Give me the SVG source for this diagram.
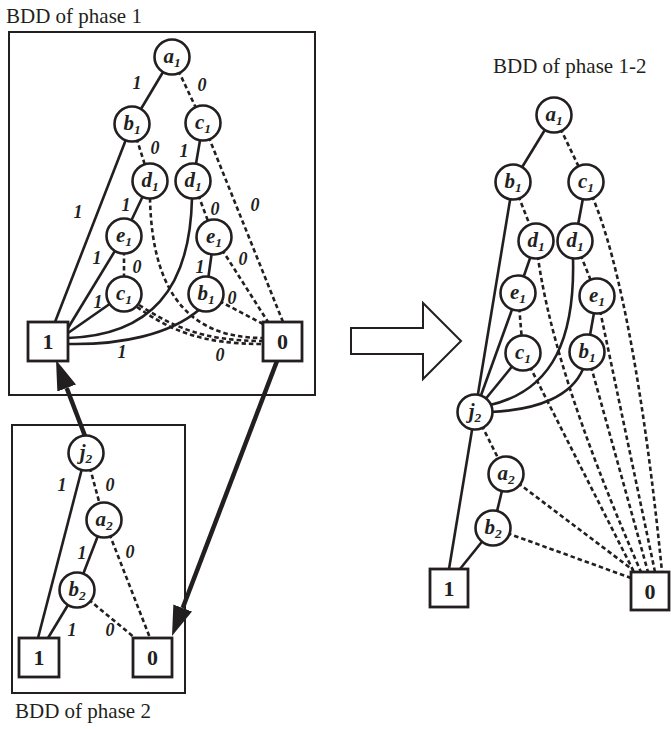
<svg xmlns="http://www.w3.org/2000/svg" width="671" height="729" viewBox="0 0 671 729">
  <style>
    .frame { fill: none; stroke: #231f20; stroke-width: 2; }
    .s { fill: none; stroke: #231f20; stroke-width: 2.6; }
    .d { fill: none; stroke: #231f20; stroke-width: 2.6; stroke-dasharray: 4.5 3; }
    .thick { fill: none; stroke: #231f20; stroke-width: 4.5; }
    .node circle { fill: #fff; stroke: #231f20; stroke-width: 2.6; }
    .term rect { fill: #fff; stroke: #231f20; stroke-width: 2.8; }
    .nl { font-family: "Liberation Serif", serif; font-weight: bold; font-style: italic; font-size: 21px; text-anchor: middle; fill: #231f20; }
    .sub { font-size: 13.5px; }
    .tl { font-family: "Liberation Serif", serif; font-weight: bold; font-size: 22px; text-anchor: middle; fill: #231f20; }
    .el { font-family: "Liberation Serif", serif; font-weight: bold; font-style: italic; font-size: 18px; text-anchor: middle; fill: #231f20; }
    .title { font-family: "Liberation Serif", serif; font-size: 21px; fill: #231f20; }
  </style>
  <defs>
    <marker id="ah" viewBox="0 -10 30 20" markerWidth="30" markerHeight="20" refX="0" refY="0" orient="auto" markerUnits="userSpaceOnUse">
      <path d="M0,-10 L30,0 L0,10 z" fill="#231f20"/>
    </marker>
  </defs>

  <rect width="671" height="729" fill="#fff"/>

  <!-- titles and frames -->
  <text class="title" x="6" y="23">BDD of phase 1</text>
  <text class="title" x="15" y="718">BDD of phase 2</text>
  <text class="title" x="493" y="73">BDD of phase 1-2</text>
  <rect class="frame" x="9" y="32" width="306" height="363"/>
  <rect class="frame" x="12" y="425" width="173" height="268"/>

  <!-- hollow transformation arrow -->
  <polygon class="frame" points="351,328 423,328 423,303 461,341 423,379 423,354 351,354"/>

  <g id="connectors">
    <!-- phase 1 -->
    <line class="s" x1="172" y1="57" x2="132" y2="124"/>
    <line class="d" x1="172" y1="57" x2="203" y2="123"/>
    <line class="s" x1="132" y1="124" x2="55" y2="322"/>
    <line class="d" x1="132" y1="124" x2="150" y2="181"/>
    <line class="s" x1="203" y1="123" x2="193" y2="181"/>
    <line class="d" x1="203" y1="123" x2="283" y2="322"/>
    <line class="s" x1="150" y1="181" x2="124" y2="236"/>
    <path class="d" d="M150,198 C152,300 195,338 263,338"/>
    <path class="s" d="M192,198 C190,290 150,335 68,338"/>
    <line class="d" x1="193" y1="181" x2="214" y2="237"/>
    <line class="s" x1="124" y1="236" x2="68" y2="328"/>
    <line class="d" x1="124" y1="236" x2="124" y2="294"/>
    <line class="s" x1="214" y1="237" x2="206" y2="294"/>
    <line class="d" x1="214" y1="237" x2="268" y2="322"/>
    <line class="s" x1="124" y1="294" x2="68" y2="333"/>
    <path class="d" d="M137,307 C170,330 200,344 263,344"/>
    <path class="d" d="M139,305 C172,326 202,341 263,341"/>
    <path class="s" d="M200,309 C170,335 120,345 68,344"/>
    <line class="d" x1="206" y1="294" x2="263" y2="324"/>

    <!-- phase 2 -->
    <line class="s" x1="86" y1="453" x2="38" y2="638"/>
    <line class="d" x1="86" y1="453" x2="104" y2="520"/>
    <line class="s" x1="104" y1="520" x2="77" y2="590"/>
    <line class="d" x1="104" y1="520" x2="150" y2="638"/>
    <line class="s" x1="77" y1="590" x2="48" y2="638"/>
    <line class="d" x1="77" y1="590" x2="135" y2="638"/>

    <!-- phase 1-2 -->
    <line class="s" x1="554" y1="115" x2="513" y2="182"/>
    <line class="d" x1="554" y1="115" x2="586" y2="182"/>
    <line class="s" x1="513" y1="182" x2="475" y2="412"/>
    <line class="d" x1="513" y1="182" x2="536" y2="241"/>
    <line class="s" x1="586" y1="182" x2="575" y2="241"/>
    <path class="d" d="M592,196 C620,260 645,400 662,572"/>
    <line class="s" x1="536" y1="241" x2="518" y2="293"/>
    <path class="d" d="M536,241 Q548,360 641,572"/>
    <path class="s" d="M573,258 C575,335 555,390 490,405"/>
    <line class="d" x1="575" y1="241" x2="597" y2="296"/>
    <line class="s" x1="518" y1="293" x2="475" y2="412"/>
    <line class="d" x1="518" y1="293" x2="523" y2="353"/>
    <line class="s" x1="597" y1="296" x2="587" y2="352"/>
    <line class="d" x1="597" y1="296" x2="655" y2="572"/>
    <line class="s" x1="523" y1="353" x2="475" y2="412"/>
    <line class="d" x1="523" y1="353" x2="634" y2="572"/>
    <path class="s" d="M583,369 C572,395 540,410 490,412"/>
    <line class="d" x1="587" y1="352" x2="648" y2="572"/>
    <line class="s" x1="475" y1="412" x2="449" y2="569"/>
    <line class="d" x1="475" y1="412" x2="506" y2="474"/>
    <line class="s" x1="506" y1="474" x2="493" y2="528"/>
    <line class="d" x1="506" y1="474" x2="633" y2="570"/>
    <line class="s" x1="493" y1="528" x2="460" y2="569"/>
    <line class="d" x1="493" y1="528" x2="631" y2="578"/>

    <!-- edge labels, phase 1 -->
    <text class="el" x="137" y="89">1</text>
    <text class="el" x="202" y="91">0</text>
    <text class="el" x="155" y="154">0</text>
    <text class="el" x="184" y="157">1</text>
    <text class="el" x="78" y="218">1</text>
    <text class="el" x="126" y="211">1</text>
    <text class="el" x="215" y="215">0</text>
    <text class="el" x="255" y="211">0</text>
    <text class="el" x="97" y="264">1</text>
    <text class="el" x="137" y="273">0</text>
    <text class="el" x="200" y="273">1</text>
    <text class="el" x="243" y="265">0</text>
    <text class="el" x="98" y="308">1</text>
    <text class="el" x="232" y="304">0</text>
    <text class="el" x="122" y="358">1</text>
    <text class="el" x="220" y="361">0</text>

    <!-- edge labels, phase 2 -->
    <text class="el" x="62" y="491">1</text>
    <text class="el" x="110" y="491">0</text>
    <text class="el" x="82" y="559">1</text>
    <text class="el" x="130" y="558">0</text>
    <text class="el" x="72" y="636">1</text>
    <text class="el" x="110" y="636">0</text>
  </g>

  <!-- phase 1 nodes -->
  <g id="p1-a1" class="node"><circle cx="172" cy="57" r="17.5"/><text class="nl" x="172" y="63">a<tspan class="sub" dy="4">1</tspan></text></g>
  <g id="p1-b1" class="node"><circle cx="132" cy="124" r="17.5"/><text class="nl" x="132" y="130">b<tspan class="sub" dy="4">1</tspan></text></g>
  <g id="p1-c1" class="node"><circle cx="203" cy="123" r="17.5"/><text class="nl" x="203" y="129">c<tspan class="sub" dy="4">1</tspan></text></g>
  <g id="p1-d1a" class="node"><circle cx="150" cy="181" r="17.5"/><text class="nl" x="150" y="187">d<tspan class="sub" dy="4">1</tspan></text></g>
  <g id="p1-d1b" class="node"><circle cx="193" cy="181" r="17.5"/><text class="nl" x="193" y="187">d<tspan class="sub" dy="4">1</tspan></text></g>
  <g id="p1-e1a" class="node"><circle cx="124" cy="236" r="17.5"/><text class="nl" x="124" y="242">e<tspan class="sub" dy="4">1</tspan></text></g>
  <g id="p1-e1b" class="node"><circle cx="214" cy="237" r="17.5"/><text class="nl" x="214" y="243">e<tspan class="sub" dy="4">1</tspan></text></g>
  <g id="p1-c1b" class="node"><circle cx="124" cy="294" r="17.5"/><text class="nl" x="124" y="300">c<tspan class="sub" dy="4">1</tspan></text></g>
  <g id="p1-b1b" class="node"><circle cx="206" cy="294" r="17.5"/><text class="nl" x="206" y="300">b<tspan class="sub" dy="4">1</tspan></text></g>
  <g id="p1-one" class="term"><rect x="28" y="322" width="40" height="39"/><text class="tl" x="48" y="349">1</text></g>
  <g id="p1-zero" class="term"><rect x="263" y="322" width="39" height="39"/><text class="tl" x="282.5" y="349">0</text></g>

  <!-- phase 2 nodes -->
  <g id="p2-j2" class="node"><circle cx="86" cy="453" r="17.5"/><text class="nl" x="86" y="459">j<tspan class="sub" dy="4">2</tspan></text></g>
  <g id="p2-a2" class="node"><circle cx="104" cy="520" r="17.5"/><text class="nl" x="104" y="526">a<tspan class="sub" dy="4">2</tspan></text></g>
  <g id="p2-b2" class="node"><circle cx="77" cy="590" r="17.5"/><text class="nl" x="77" y="596">b<tspan class="sub" dy="4">2</tspan></text></g>
  <g id="p2-one" class="term"><rect x="19" y="638" width="40" height="39"/><text class="tl" x="39" y="665">1</text></g>
  <g id="p2-zero" class="term"><rect x="133" y="638" width="39" height="39"/><text class="tl" x="152.5" y="665">0</text></g>

  <!-- phase 1-2 nodes -->
  <g id="m-a1" class="node"><circle cx="554" cy="115" r="17.5"/><text class="nl" x="554" y="121">a<tspan class="sub" dy="4">1</tspan></text></g>
  <g id="m-b1" class="node"><circle cx="513" cy="182" r="17.5"/><text class="nl" x="513" y="188">b<tspan class="sub" dy="4">1</tspan></text></g>
  <g id="m-c1" class="node"><circle cx="586" cy="182" r="17.5"/><text class="nl" x="586" y="188">c<tspan class="sub" dy="4">1</tspan></text></g>
  <g id="m-d1a" class="node"><circle cx="536" cy="241" r="17.5"/><text class="nl" x="536" y="247">d<tspan class="sub" dy="4">1</tspan></text></g>
  <g id="m-d1b" class="node"><circle cx="575" cy="241" r="17.5"/><text class="nl" x="575" y="247">d<tspan class="sub" dy="4">1</tspan></text></g>
  <g id="m-e1a" class="node"><circle cx="518" cy="293" r="17.5"/><text class="nl" x="518" y="299">e<tspan class="sub" dy="4">1</tspan></text></g>
  <g id="m-e1b" class="node"><circle cx="597" cy="296" r="17.5"/><text class="nl" x="597" y="302">e<tspan class="sub" dy="4">1</tspan></text></g>
  <g id="m-c1b" class="node"><circle cx="523" cy="353" r="17.5"/><text class="nl" x="523" y="359">c<tspan class="sub" dy="4">1</tspan></text></g>
  <g id="m-b1b" class="node"><circle cx="587" cy="352" r="17.5"/><text class="nl" x="587" y="358">b<tspan class="sub" dy="4">1</tspan></text></g>
  <g id="m-j2" class="node"><circle cx="475" cy="412" r="17.5"/><text class="nl" x="475" y="418">j<tspan class="sub" dy="4">2</tspan></text></g>
  <g id="m-a2" class="node"><circle cx="506" cy="474" r="17.5"/><text class="nl" x="506" y="480">a<tspan class="sub" dy="4">2</tspan></text></g>
  <g id="m-b2" class="node"><circle cx="493" cy="528" r="17.5"/><text class="nl" x="493" y="534">b<tspan class="sub" dy="4">2</tspan></text></g>
  <g id="m-one" class="term"><rect x="430" y="569" width="38" height="38"/><text class="tl" x="449" y="596">1</text></g>
  <g id="m-zero" class="term"><rect x="631" y="572" width="38" height="38"/><text class="tl" x="650" y="599">0</text></g>

  <!-- links between the two phase diagrams -->
  <g id="links">
    <line class="thick" x1="85" y1="436" x2="66.7" y2="388" marker-end="url(#ah)"/>
    <line class="thick" x1="277" y1="361" x2="182.7" y2="608" marker-end="url(#ah)"/>
  </g>
</svg>
